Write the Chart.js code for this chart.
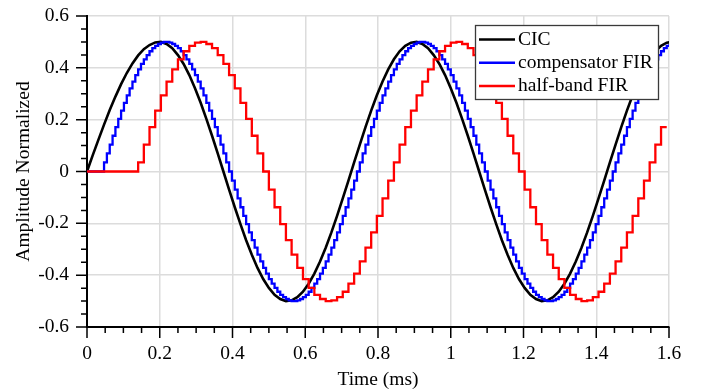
<!DOCTYPE html>
<html>
<head>
<meta charset="utf-8">
<script src="https://cdn.jsdelivr.net/npm/chart.js@4/dist/chart.umd.min.js"></script>
<style>
  html, body { margin: 0; padding: 0; background: #fff; }
  #wrap { width: 702px; height: 390px; }
</style>
</head>
<body>
<div id="wrap"><canvas id="filterChart" width="702" height="390"></canvas></div>
<script>
  // sample periods (ms) of each filter output
  const cicStep = 0.015625;
  const firStep = 0.0078125;
  const hbStep = 0.015625;

  // CIC output (smooth)
  const cicValues = [
    0, 0.062, 0.122, 0.181, 0.237, 0.289, 0.337, 0.380, 0.417, 0.448, 0.472, 0.488, 0.498,
    0.500, 0.492, 0.476, 0.449, 0.415, 0.372, 0.321, 0.265, 0.203, 0.138, 0.070, 0, -0.070, -0.138, -0.203,
    -0.265, -0.321, -0.372, -0.415, -0.449, -0.476, -0.492, -0.500, -0.497, -0.485, -0.464, -0.433, -0.394,
    -0.347, -0.294, -0.235, -0.171, -0.104, -0.035, 0.035, 0.104, 0.171, 0.235, 0.294, 0.347, 0.394, 0.433,
    0.464, 0.485, 0.497,
    0.500, 0.492, 0.476, 0.449, 0.415, 0.372, 0.321, 0.265, 0.203, 0.138, 0.070, 0, -0.070, -0.138, -0.203,
    -0.265, -0.321, -0.372, -0.415, -0.449, -0.476, -0.492, -0.500, -0.497, -0.485, -0.464, -0.433, -0.394,
    -0.347, -0.294, -0.235, -0.171, -0.104, -0.035, 0.035, 0.104, 0.171, 0.235, 0.294, 0.347, 0.394, 0.433,
    0.464, 0.485, 0.497,
    0.500
  ];

  // compensator FIR output (held samples)
  const firValues = [
    0, 0, 0, 0, 0,
    0, 0.035, 0.070, 0.104, 0.138, 0.171, 0.203, 0.235, 0.265, 0.294,
    0.321, 0.347, 0.372, 0.394, 0.415, 0.433, 0.449, 0.464, 0.476, 0.485,
    0.492, 0.497, 0.500, 0.500, 0.497, 0.492, 0.485, 0.476, 0.464, 0.449,
    0.433, 0.415, 0.394, 0.372, 0.347, 0.321, 0.294, 0.265, 0.235, 0.203,
    0.171, 0.138, 0.104, 0.070, 0.035, 0, -0.035, -0.070, -0.104, -0.138,
    -0.171, -0.203, -0.235, -0.265, -0.294, -0.321, -0.347, -0.372, -0.394, -0.415,
    -0.433, -0.449, -0.464, -0.476, -0.485, -0.492, -0.497, -0.500, -0.500, -0.497,
    -0.492, -0.485, -0.476, -0.464, -0.449, -0.433, -0.415, -0.394, -0.372, -0.347,
    -0.321, -0.294, -0.265, -0.235, -0.203, -0.171, -0.138, -0.104, -0.070, -0.035,
    0, 0.035, 0.070, 0.104, 0.138, 0.171, 0.203, 0.235, 0.265, 0.294,
    0.321, 0.347, 0.372, 0.394, 0.415, 0.433, 0.449, 0.464, 0.476, 0.485,
    0.492, 0.497, 0.500, 0.500, 0.497, 0.492, 0.485, 0.476, 0.464, 0.449,
    0.433, 0.415, 0.394, 0.372, 0.347, 0.321, 0.294, 0.265, 0.235, 0.203,
    0.171, 0.138, 0.104, 0.070, 0.035, 0, -0.035, -0.070, -0.104, -0.138,
    -0.171, -0.203, -0.235, -0.265, -0.294, -0.321, -0.347, -0.372, -0.394, -0.415,
    -0.433, -0.449, -0.464, -0.476, -0.485, -0.492, -0.497, -0.500, -0.500, -0.497,
    -0.492, -0.485, -0.476, -0.464, -0.449, -0.433, -0.415, -0.394, -0.372, -0.347,
    -0.321, -0.294, -0.265, -0.235, -0.203, -0.171, -0.138, -0.104, -0.070, -0.035,
    0, 0.035, 0.070, 0.104, 0.138, 0.171, 0.203, 0.235, 0.265, 0.294,
    0.321, 0.347, 0.372, 0.394, 0.415, 0.433, 0.449, 0.464, 0.476, 0.485, 0.492
  ];

  // half-band FIR output (held samples)
  const hbValues = [
    0, 0, 0, 0, 0, 0, 0, 0, 0,
    0.035, 0.104, 0.171, 0.235, 0.294, 0.347, 0.394, 0.433, 0.464, 0.485, 0.497, 0.500,
    0.492, 0.476, 0.449, 0.415, 0.372, 0.321, 0.265, 0.203, 0.138, 0.070, 0, -0.070,
    -0.138, -0.203, -0.265, -0.321, -0.372, -0.415, -0.449, -0.476, -0.492, -0.500,
    -0.497, -0.485, -0.464, -0.433, -0.394, -0.347, -0.294, -0.235, -0.171, -0.104, -0.035,
    0.035, 0.104, 0.171, 0.235, 0.294, 0.347, 0.394, 0.433, 0.464, 0.485, 0.497, 0.500,
    0.492, 0.476, 0.449, 0.415, 0.372, 0.321, 0.265, 0.203, 0.138, 0.070, 0, -0.070,
    -0.138, -0.203, -0.265, -0.321, -0.372, -0.415, -0.449, -0.476, -0.492, -0.500,
    -0.497, -0.485, -0.464, -0.433, -0.394, -0.347, -0.294, -0.235, -0.171, -0.104, -0.035,
    0.035, 0.104, 0.171, 0.171
  ];

  const seriesLabels = ['CIC', 'compensator FIR', 'half-band FIR'];
  const seriesColors = ['#000000', '#0000ff', '#ff0000'];

  const xTicks = [0, 0.2, 0.4, 0.6, 0.8, 1, 1.2, 1.4, 1.6];
  const xTickLabels = ['0', '0.2', '0.4', '0.6', '0.8', '1', '1.2', '1.4', '1.6'];
  const yTicks = [-0.6, -0.4, -0.2, 0, 0.2, 0.4, 0.6];
  const yTickLabels = ['-0.6', '-0.4', '-0.2', '0', '0.2', '0.4', '0.6'];
  const minorStep = 0.05;

  const serif = "'Liberation Serif', 'Times New Roman', serif";
  const fontSize = 19.5;

  // wanted plot box
  const plotTop = 16, plotBottom = 327;
  let xAxisHeight = 63;

  function toPoints(values, step) {
    return values.map((v, i) => ({x: i * step, y: v}));
  }

  // major + minor tick marks outside the plot
  const axisTicks = {
    id: 'axisTicks',
    afterDraw(chart) {
      const ctx = chart.ctx;
      const xs = chart.scales.x, ys = chart.scales.y;
      const area = chart.chartArea;
      ctx.save();
      ctx.strokeStyle = '#000';
      ctx.lineWidth = 1.5;
      ctx.beginPath();
      const nx = Math.round((xs.max - xs.min) / minorStep);
      for (let k = 0; k <= nx; k++) {
        const px = xs.getPixelForValue(xs.min + k * minorStep);
        const len = k % 4 === 0 ? 11 : 6;
        ctx.moveTo(px, area.bottom);
        ctx.lineTo(px, area.bottom + len);
      }
      const ny = Math.round((ys.max - ys.min) / minorStep);
      for (let k = 0; k <= ny; k++) {
        const py = ys.getPixelForValue(ys.min + k * minorStep);
        const len = k % 4 === 0 ? 11 : 6;
        ctx.moveTo(area.left, py);
        ctx.lineTo(area.left - len, py);
      }
      ctx.stroke();
      ctx.restore();
    }
  };

  // boxed legend in the upper right
  const boxLegend = {
    id: 'boxLegend',
    afterDraw(chart) {
      const ctx = chart.ctx;
      const bx = 475.5, by = 25.5, bw = 183, bh = 74;
      ctx.save();
      ctx.fillStyle = '#fff';
      ctx.fillRect(bx, by, bw, bh);
      ctx.strokeStyle = '#3a3a3a';
      ctx.lineWidth = 1.3;
      ctx.strokeRect(bx, by, bw, bh);
      ctx.font = fontSize + 'px ' + serif;
      ctx.textBaseline = 'middle';
      ctx.textAlign = 'left';
      chart.data.datasets.forEach((ds, i) => {
        const y = 39.5 + i * 23.3;
        ctx.strokeStyle = ds.borderColor;
        ctx.lineWidth = 2.5;
        ctx.beginPath();
        ctx.moveTo(479, y);
        ctx.lineTo(515, y);
        ctx.stroke();
        ctx.fillStyle = '#000';
        ctx.fillText(ds.label, 518, y);
      });
      ctx.restore();
    }
  };

  Chart.defaults.font.family = serif;
  Chart.defaults.font.size = fontSize;
  Chart.defaults.color = '#000';

  const chart = new Chart('filterChart', {
    type: 'line',
    data: {
      datasets: [{
        label: seriesLabels[0],
        data: toPoints(cicValues, cicStep),
        borderColor: seriesColors[0],
        borderWidth: 2.6,
        pointRadius: 0,
        tension: 0,
        order: 3
      }, {
        label: seriesLabels[1],
        data: toPoints(firValues, firStep),
        borderColor: seriesColors[1],
        borderWidth: 2.3,
        pointRadius: 0,
        stepped: true,
        order: 2
      }, {
        label: seriesLabels[2],
        data: toPoints(hbValues, hbStep),
        borderColor: seriesColors[2],
        borderWidth: 2.3,
        pointRadius: 0,
        stepped: true,
        order: 1
      }]
    },
    options: {
      responsive: false,
      animation: false,
      devicePixelRatio: 1,
      layout: {padding: {left: 0, right: 33, top: plotTop, bottom: 0}},
      scales: {
        x: {
          type: 'linear',
          min: 0,
          max: 1.6,
          afterBuildTicks(s) { s.ticks = xTicks.map(v => ({value: v})); },
          afterFit(s) { s.height = xAxisHeight; },
          ticks: {
            padding: 2,
            autoSkip: false,
            maxRotation: 0,
            callback: (v, i) => xTickLabels[i]
          },
          grid: {color: '#dcdcdc', lineWidth: 1.5, drawTicks: true, tickLength: 13, tickColor: 'rgba(0,0,0,0)'},
          border: {display: true, color: '#000', width: 2},
          title: {display: true, text: 'Time (ms)', padding: {top: 0, bottom: -2}}
        },
        y: {
          type: 'linear',
          min: -0.6,
          max: 0.6,
          afterBuildTicks(s) { s.ticks = yTicks.map(v => ({value: v})); },
          afterFit(s) { s.width = 87; },
          ticks: {
            padding: 2,
            callback: (v, i) => yTickLabels[i]
          },
          grid: {color: '#dcdcdc', lineWidth: 1.5, drawTicks: true, tickLength: 16, tickColor: 'rgba(0,0,0,0)'},
          border: {display: true, color: '#000', width: 2},
          title: {display: true, text: 'Amplitude Normalized', padding: {top: 12, bottom: 0}}
        }
      },
      plugins: {
        legend: {display: false},
        tooltip: {enabled: false}
      }
    },
    plugins: [axisTicks, boxLegend]
  });

  // nudge the layout so the plot box lands where the reference has it
  for (let pass = 0; pass < 3; pass++) {
    const a = chart.chartArea;
    const dt = plotTop - a.top, db = plotBottom - a.bottom;
    if (Math.abs(dt) < 0.2 && Math.abs(db) < 0.2) break;
    chart.options.layout.padding.top += dt;
    xAxisHeight -= db;
    chart.update();
  }
</script>
</body>
</html>
